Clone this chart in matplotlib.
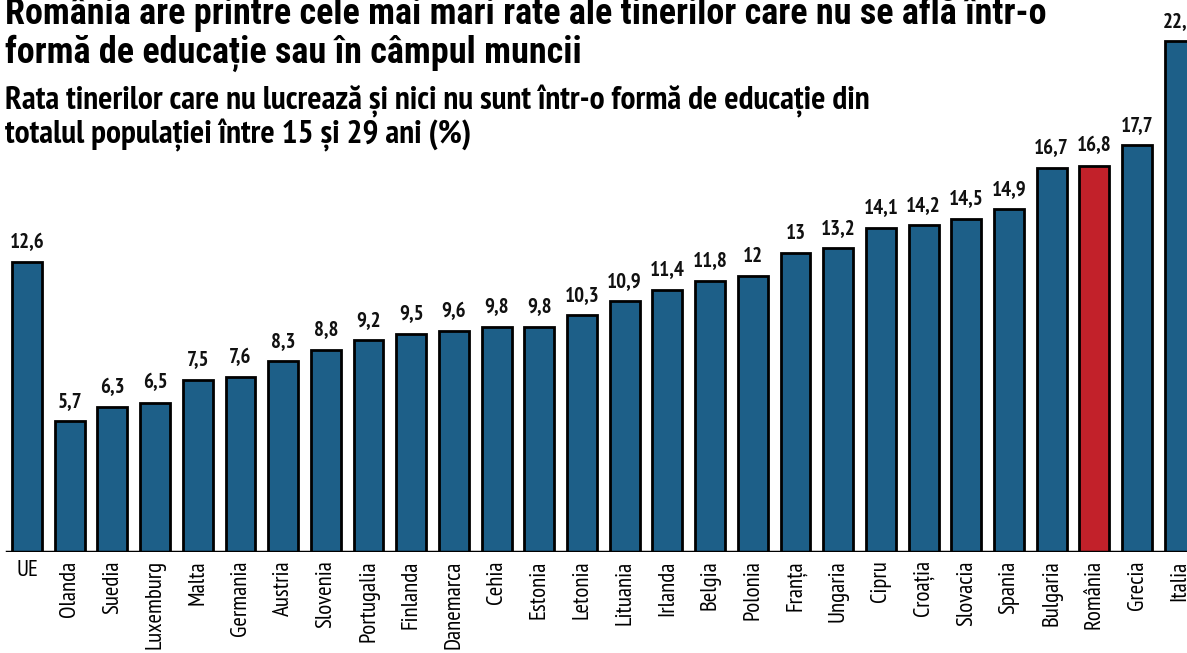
import matplotlib
matplotlib.use("Agg")
import matplotlib.pyplot as plt

# Data
countries = ["UE", "Olanda", "Suedia", "Luxemburg", "Malta", "Germania", "Austria",
             "Slovenia", "Portugalia", "Finlanda", "Danemarca", "Cehia", "Estonia",
             "Letonia", "Lituania", "Irlanda", "Belgia", "Polonia", "Franța", "Ungaria",
             "Cipru", "Croația", "Slovacia", "Spania", "Bulgaria", "România", "Grecia",
             "Italia"]
values = [12.6, 5.7, 6.3, 6.5, 7.5, 7.6, 8.3, 8.8, 9.2, 9.5, 9.6, 9.8, 9.8, 10.3,
          10.9, 11.4, 11.8, 12, 13, 13.2, 14.1, 14.2, 14.5, 14.9, 16.7, 16.8, 17.7, 22.2]
highlight = "România"

title_lines = ["România are printre cele mai mari rate ale tinerilor care nu se află într-o",
               "formă de educație sau în câmpul muncii"]
subtitle_lines = ["Rata tinerilor care nu lucrează și nici nu sunt într-o formă de educație din",
                  "totalul populației între 15 și 29 ani (%)"]

blue = "#1d5f88"
red = "#c2212a"
narrow = ["PT Sans Narrow", "DejaVu Sans"]
heavy = ["Roboto Condensed", "DejaVu Sans"]

fig = plt.figure(figsize=(11.87, 6.53), dpi=100)
ax = fig.add_axes([0, 1 - 552 / 653, 1, 552 / 653])

x = list(range(len(countries)))
colors = [red if c == highlight else blue for c in countries]
ax.bar(x, values, width=0.70, color=colors, edgecolor="black", linewidth=2.0, zorder=2)

for xi, v in zip(x, values):
    lbl = f"{v:g}".replace(".", ",")
    ax.text(xi, v + 0.45, lbl, ha="center", va="bottom", fontsize=15,
            fontweight="bold", family=narrow, color="#111111")

ax.set_xlim(-0.632, 27.17)
ax.set_ylim(0, 24)
ax.axhline(0, xmin=0.006, color="black", linewidth=2.5, zorder=3)
for s in ax.spines.values():
    s.set_visible(False)
ax.set_yticks([])
ax.set_xticks(x)
ax.set_xticklabels(countries, rotation=90, fontsize=16.5, family=narrow, va="top")
ax.tick_params(axis="x", length=0, pad=6)
ax.get_xticklabels()[0].set_rotation(0)

for i, line in enumerate(title_lines):
    fig.text(0.004, 1 - (24 + 39 * i) / 653, line, ha="left", va="baseline",
             fontsize=26, fontweight="bold", family=heavy)
for i, line in enumerate(subtitle_lines):
    fig.text(0.004, 1 - (109 + 34 * i) / 653, line, ha="left", va="baseline",
             fontsize=24, fontweight="bold", family=narrow)

fig.savefig("out.png", dpi=100)
